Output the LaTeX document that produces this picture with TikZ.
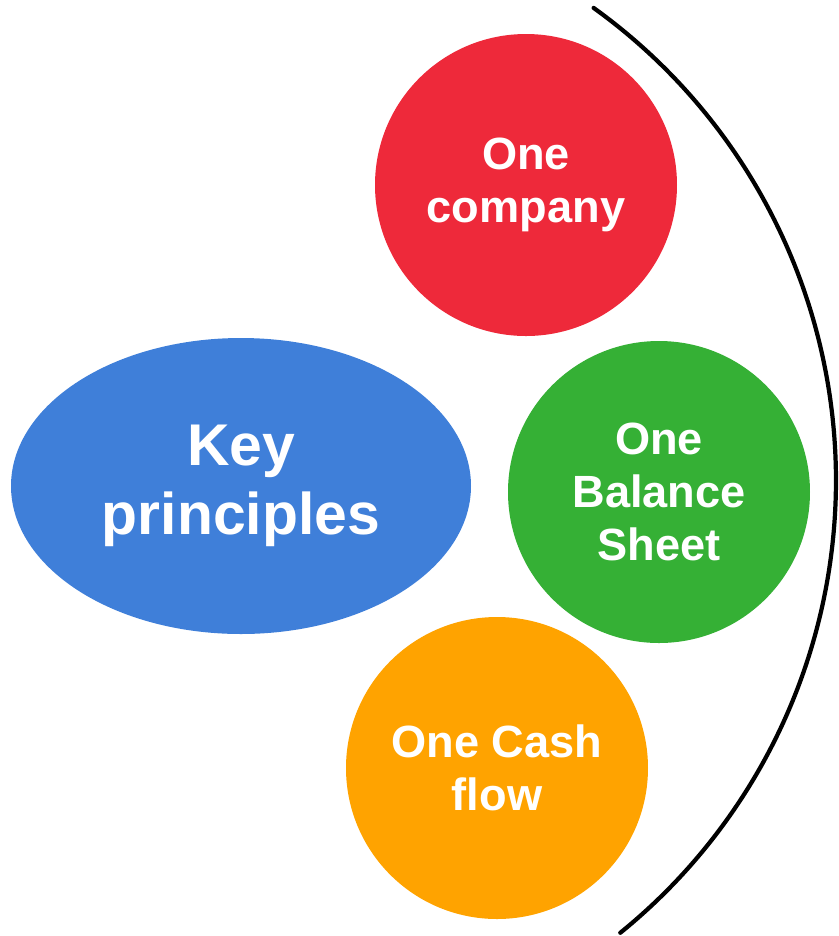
\documentclass[tikz,border=0pt]{standalone}
\usepackage{fontspec}
\setmainfont{Liberation Sans}
\usetikzlibrary{shapes.geometric}
\definecolor{pred}{RGB}{238,41,58}
\definecolor{pblue}{RGB}{63,127,217}
\definecolor{pgreen}{RGB}{53,176,53}
\definecolor{porange}{RGB}{255,163,0}
\tikzset{
	ball/.style={circle, minimum size=6.04cm, inner sep=0pt, text=white, align=center,
		font=\fontsize{25.7}{30}\selectfont\bfseries},
}
\begin{document}
\begin{tikzpicture}[line join=round, line cap=round]
			\useasboundingbox (0,0) rectangle (16.78,-18.72);
			\path
			(10.52,-3.70)coordinate(C)
			(13.18,-9.84)coordinate(B)
			(9.94,-15.36)coordinate(F)
			(4.82,-9.72)coordinate(K)
			(5.08,-9.61)coordinate(O)
			;
			\node[ellipse, fill=pblue, minimum width=9.2cm, minimum height=5.92cm, inner sep=0pt,
				text=white, align=center, font=\fontsize{33.5}{39}\selectfont\bfseries] (key) at (K) {Key\\principles};
			\foreach \p/\c/\t in {C/pred/One\\company, B/pgreen/One\\Balance\\Sheet, F/porange/One Cash\\flow}
				\node[ball, fill=\c] (n\p) at (\p) {\t};
			\draw[line width=2.4pt] (O) ++(54.3:11.64) arc (54.3:-51:11.64) coordinate(E);
			\end{tikzpicture}
\end{document}
